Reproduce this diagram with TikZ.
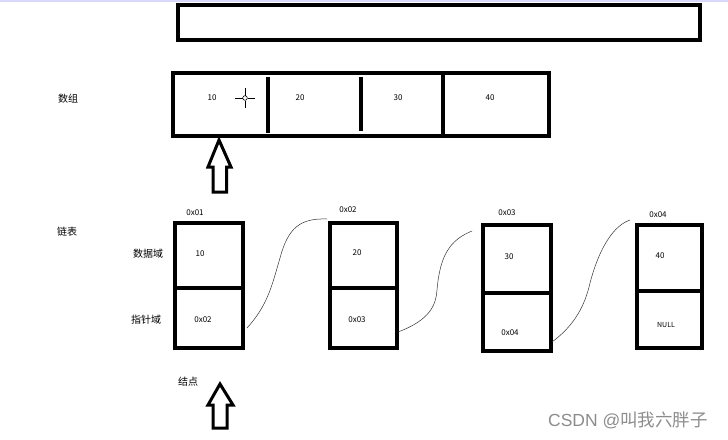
\documentclass[tikz,border=0pt]{standalone}
\usepackage{fontspec}
\setmainfont{Noto Sans CJK SC}
\newfontfamily\wmlatin{Liberation Sans}
\begin{document}
\begin{tikzpicture}[x=1pt,y=-1pt,
  box/.style={draw=black,line width=4pt,fill=white,inner sep=0pt},
  cell/.style={box,minimum width=68pt,minimum height=64pt},
  num/.style={font=\fontsize{8}{9}\selectfont,inner sep=0pt},
  lab/.style={font=\fontsize{10}{11}\selectfont,inner sep=0pt},
  divider/.style={line width=4pt},
  link/.style={line width=0.5pt,black!80},
  hollowarrow/.style={draw=black,line width=3pt,fill=white,line join=miter}]
\useasboundingbox (0,0) rectangle (728,439);
\fill[blue!15] (0,0) rectangle (728,2);
% top bar
\node[box,minimum width=522pt,minimum height=35pt] (bar) at (439,22.5) {};
% array
\node[box,minimum width=376pt,minimum height=63pt] (arr) at (361,104.5) {};
\coordinate (d1t) at (268,77); \coordinate (d1b) at (268,133);
\coordinate (d2t) at (361,77); \coordinate (d2b) at (361,131);
\draw[divider] (d1t) -- (d1b);
\draw[divider] (d2t) -- (d2b);
\draw[divider] (443,73) -- (443,136);
\node[num] (a10) at (212,98) {10};
\node[num] (a20) at (300,98) {20};
\node[num] (a30) at (398,98) {30};
\node[num] (a40) at (490,98) {40};
\node[lab] (shuzu) at (68,99) {数组};
% crosshair
\coordinate (ch) at (245,98);
\draw[line width=0.6pt] (235,98) -- (242.5,98) (247.5,98) -- (255,98)
  (245,88) -- (245,95.5) (245,100.5) -- (245,108);
\draw[line width=0.6pt] (ch) circle (2.3);
% hollow arrow 1
\draw[hollowarrow] (219,140) -- (231,167) -- (226.5,167) -- (226.5,192) -- (213,192) -- (213,167) -- (208,167) -- cycle;
% linked list label
\node[lab] (lianbiao) at (67,232) {链表};
\node[lab] (shujuyu) at (148,254) {数据域};
\node[lab] (zhizhenyu) at (146,320) {指针域};
\node[lab] (jiedian) at (188,382) {结点};
% node 1
\node[cell,minimum height=65pt] (n1d) at (209,255.5) {};
\node[cell,minimum height=60pt] (n1p) at (209,318) {};
\node[num] at (195,213) {0x01};
\node[num] at (200,254) {10};
\node[num] at (203,320) {0x02};
% node 2
\node[cell,minimum width=67pt,minimum height=65pt] (n2d) at (363.5,255.5) {};
\node[cell,minimum width=67pt,minimum height=60pt] (n2p) at (363.5,318) {};
\node[num] at (348,210) {0x02};
\node[num] at (357,253) {20};
\node[num] at (357,320) {0x03};
% node 3
\node[cell,minimum height=68pt] (n3d) at (517,259) {};
\node[cell,minimum height=58pt] (n3p) at (517,322) {};
\node[num] at (507,213) {0x03};
\node[num] at (509,257) {30};
\node[num] at (510,333) {0x04};
% node 4
\node[cell,minimum width=65pt,minimum height=66pt] (n4d) at (669.5,258) {};
\node[cell,minimum width=65pt,minimum height=57pt] (n4p) at (669.5,319.5) {};
\node[num] at (658,215) {0x04};
\node[num] at (660,256) {40};
\node[num,font=\fontsize{7}{8}\selectfont] at (666,325) {NULL};
% links
\coordinate (l1s) at (247,328); \coordinate (l1e) at (327,219);
\coordinate (l2s) at (398,332); \coordinate (l2e) at (472,231);
\coordinate (l3s) at (552,342); \coordinate (l3e) at (630,220);
\draw[link] (l1s) .. controls (268,305) and (272,285) .. (280,258)
  .. controls (288,228) and (300,218) .. (l1e);
\draw[link] (l2s) .. controls (430,320) and (436,305) .. (437,290)
  .. controls (440,255) and (450,240) .. (l2e);
\draw[link] (l3s) .. controls (575,325) and (585,305) .. (590,283)
  .. controls (600,245) and (615,225) .. (l3e);
% hollow arrow 2
\draw[hollowarrow] (220,384) -- (233,405) -- (227,405) -- (227,428) -- (213,428) -- (213,405) -- (208,405) -- cycle;
% watermark
\node[font=\fontsize{17.5}{18}\selectfont,text=black!45,inner sep=0pt] (wm) at (628,420) {{\wmlatin CSDN @}叫我六胖子};
\end{tikzpicture}
\end{document}
